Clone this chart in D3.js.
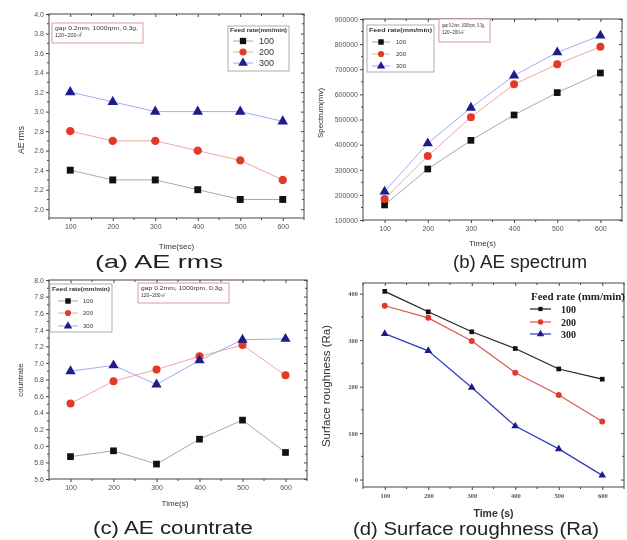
<!DOCTYPE html>
<html>
<head>
<meta charset="utf-8">
<script src="https://cdn.jsdelivr.net/npm/d3@7"></script>
<style>
  html, body { margin: 0; padding: 0; background: #fff; }
  svg { display: block; filter: blur(0.25px); }
</style>
</head>
<body>
<svg id="chart" width="627" height="540"></svg>
<script>
// ---------------- DATA ----------------
const times = [100, 200, 300, 400, 500, 600];
const feedRates = ["100", "200", "300"];

const rms100 = [2.4, 2.3, 2.3, 2.2, 2.1, 2.1];
const rms200 = [2.8, 2.7, 2.7, 2.6, 2.5, 2.3];
const rms300 = [3.2, 3.1, 3.0, 3.0, 3.0, 2.9];

const spec100 = [160000, 303000, 417000, 518000, 607000, 685000];
const spec200 = [184000, 355000, 509000, 640000, 720000, 790000];
const spec300 = [213000, 405000, 547000, 675000, 767000, 834000];

const cr100 = [5.87, 5.94, 5.78, 6.08, 6.31, 5.92];
const cr200 = [6.51, 6.78, 6.92, 7.08, 7.215, 6.85];
const cr300 = [6.90, 6.97, 6.74, 7.03, 7.28, 7.29];

const ra100 = [405, 361, 318, 282, 238, 216];
const ra200 = [374, 348, 298, 230, 182, 125];
const ra300 = [314, 277, 198, 115, 66, 9];

const timeTicks = [100, 200, 300, 400, 500, 600];
const rmsTicks = [2.0, 2.2, 2.4, 2.6, 2.8, 3.0, 3.2, 3.4, 3.6, 3.8, 4.0];
const specTicks = [100000, 200000, 300000, 400000, 500000, 600000, 700000, 800000, 900000];
const crTicks = [5.6, 5.8, 6.0, 6.2, 6.4, 6.6, 6.8, 7.0, 7.2, 7.4, 7.6, 7.8, 8.0];
const raTicks = [0, 100, 200, 300, 400];

const titles = ["(a) AE rms", "(b) AE spectrum", "(c) AE countrate", "(d) Surface roughness (Ra)"];
const legendTitleOrigin = "Feed rate(mm/min)";
const legendTitleD = "Feed rate (mm/min)";
const noteLines = ["gap 0.2mm, 1000rpm, 0.3g,", "120~200\u338B"];

// ---------------- DRAWING ----------------
const svg = d3.select("#chart");
const SANS = "'Liberation Sans', Arial, sans-serif";
const SERIF = "'Liberation Serif', 'Times New Roman', serif";

const markerColors = ["#111111", "#e23a2a", "#1c1c8a"];
const softLine = ["#a8a8a8", "#f2a6a0", "#a6aaf0"];
const hardLine = ["#222222", "#e25555", "#2b3cc0"];
const symbols = [d3.symbolSquare, d3.symbolCircle, d3.symbolTriangle];

function panel(cfg) {
  const g = svg.append("g");
  const x = d3.scaleLinear().domain([50, 650]).range([cfg.left, cfg.right]);
  const y = d3.scaleLinear().domain(cfg.yDomain).range([cfg.bottom, cfg.top]);

  const tickFont = cfg.serifTicks ? SERIF : SANS;
  const tickWeight = cfg.serifTicks ? "bold" : "normal";

  const xMinor = d3.range(50, 651, 50).filter(v => timeTicks.indexOf(v) < 0);
  const yMinor = cfg.yMinor;

  const bx = g.append("g").attr("transform", `translate(0,${cfg.bottom})`)
    .call(d3.axisBottom(x).tickValues(timeTicks).tickSize(3).tickPadding(3).tickFormat(d3.format("d")));
  bx.append("g").selectAll("line").data(xMinor).join("line")
    .attr("x1", d => x(d)).attr("x2", d => x(d)).attr("y1", 0).attr("y2", 2).attr("stroke", "#444");
  const ly = g.append("g").attr("transform", `translate(${cfg.left},0)`)
    .call(d3.axisLeft(y).tickValues(cfg.yTicks).tickSize(3).tickPadding(2).tickFormat(cfg.yFormat));
  ly.append("g").selectAll("line").data(yMinor).join("line")
    .attr("y1", d => y(d)).attr("y2", d => y(d)).attr("x1", 0).attr("x2", -2).attr("stroke", "#444");
  const tx = g.append("g").attr("transform", `translate(0,${cfg.top})`)
    .call(d3.axisBottom(x).tickValues(timeTicks).tickSize(3).tickFormat(""));
  tx.append("g").selectAll("line").data(xMinor).join("line")
    .attr("x1", d => x(d)).attr("x2", d => x(d)).attr("y1", 0).attr("y2", 2).attr("stroke", "#444");
  const ry = g.append("g").attr("transform", `translate(${cfg.right},0)`)
    .call(d3.axisLeft(y).tickValues(cfg.yTicks).tickSize(3).tickFormat(""));
  ry.append("g").selectAll("line").data(yMinor).join("line")
    .attr("y1", d => y(d)).attr("y2", d => y(d)).attr("x1", 0).attr("x2", -2).attr("stroke", "#444");

  [bx, ly, tx, ry].forEach(a => {
    a.select(".domain").remove();
    a.selectAll(".tick line").attr("stroke", "#444");
    a.selectAll(".tick text").attr("font-family", tickFont).attr("font-size", cfg.tickSize)
      .attr("font-weight", tickWeight).attr("fill", "#555");
  });

  g.append("rect").attr("x", cfg.left).attr("y", cfg.top)
    .attr("width", cfg.right - cfg.left).attr("height", cfg.bottom - cfg.top)
    .attr("fill", "none").attr("stroke", "#555").attr("stroke-width", 1.1);

  const line = d3.line().x((d, i) => x(times[i])).y(d => y(d));
  cfg.series.forEach((s, k) => {
    g.append("path").datum(s).attr("d", line).attr("fill", "none")
      .attr("stroke", cfg.hard ? hardLine[k] : softLine[k]).attr("stroke-width", cfg.hard ? 1.2 : 1);
  });
  cfg.series.forEach((s, k) => {
    g.append("g").selectAll("path").data(s).join("path")
      .attr("transform", (d, i) => `translate(${x(times[i])},${y(d)})`)
      .attr("d", d3.symbol().type(symbols[k]).size(cfg.markSize[k]))
      .attr("fill", markerColors[k]);
  });

  g.append("text").attr("x", (cfg.left + cfg.right) / 2 + cfg.xLabelDx).attr("y", cfg.xLabelY)
    .attr("text-anchor", "middle").attr("font-family", SANS).attr("font-size", cfg.xLabelSize)
    .attr("font-weight", cfg.hard ? "bold" : "normal").attr("fill", "#333").text(cfg.xLabel);
  g.append("text").attr("transform", `translate(${cfg.yLabelX},${cfg.yLabelY}) rotate(-90)`)
    .attr("text-anchor", "middle").attr("font-family", SANS).attr("font-size", cfg.yLabelSize)
    .attr("fill", "#333").text(cfg.yLabel);

  g.append("text").attr("x", cfg.titleX).attr("y", cfg.titleY).attr("text-anchor", "middle")
    .attr("font-family", SANS).attr("font-size", 18).attr("fill", "#222")
    .attr("textLength", cfg.titleLen).attr("lengthAdjust", "spacingAndGlyphs")
    .text(cfg.title);

  return { g, x, y };
}

function originLegend(g, box, fs) {
  g.append("rect").attr("x", box.x).attr("y", box.y).attr("width", box.w).attr("height", box.h)
    .attr("fill", "#fff").attr("stroke", "#999").attr("stroke-width", 0.8);
  g.append("text").attr("x", box.x + 2).attr("y", box.ty).attr("font-family", SANS)
    .attr("font-size", box.tfs).attr("font-weight", "bold").attr("fill", "#333")
    .attr("textLength", box.w - 4).attr("lengthAdjust", "spacingAndGlyphs").text(legendTitleOrigin);
  feedRates.forEach((f, k) => {
    const yy = box.rows[k];
    g.append("line").attr("x1", box.lx1).attr("x2", box.lx2).attr("y1", yy).attr("y2", yy)
      .attr("stroke", softLine[k]).attr("stroke-width", 1);
    g.append("path").attr("transform", `translate(${(box.lx1 + box.lx2) / 2},${yy})`)
      .attr("d", d3.symbol().type(symbols[k]).size(box.ms)).attr("fill", markerColors[k]);
    g.append("text").attr("x", box.labX).attr("y", yy).attr("dy", "0.35em")
      .attr("font-family", SANS).attr("font-size", fs).attr("fill", "#333").text(f);
  });
}

function note(g, b) {
  g.append("rect").attr("x", b.x).attr("y", b.y).attr("width", b.w).attr("height", b.h)
    .attr("fill", "#fff").attr("stroke", "#d99090").attr("stroke-width", 0.9);
  noteLines.forEach((t, i) => {
    g.append("text").attr("x", b.x + 3).attr("y", b.y + b.l[i]).attr("font-family", SANS)
      .attr("font-size", b.fs).attr("fill", "#333")
      .attr("textLength", i === 0 ? b.w - 8 : null).attr("lengthAdjust", "spacingAndGlyphs").text(t);
  });
}

// (a)
const pa = panel({
  left: 49, right: 304, top: 14, bottom: 218,
  yDomain: [1.91, 4.0], yTicks: rmsTicks, yMinor: d3.range(2.1, 4.0, 0.2), yFormat: d3.format(".1f"),
  tickSize: 7, series: [rms100, rms200, rms300], markSize: [48, 55, 48],
  xLabel: "Time(sec)", xLabelY: 249, xLabelSize: 8, xLabelDx: 0,
  yLabel: "AE rms", yLabelX: 24, yLabelY: 140, yLabelSize: 8.5,
  title: titles[0], titleX: 159, titleY: 268, titleLen: 128
});
originLegend(pa.g, { x: 228, y: 26, w: 61, h: 45, ty: 32, tfs: 6, rows: [41, 52, 63], lx1: 233, lx2: 253, labX: 259, ms: 40 }, 9);
note(pa.g, { x: 52, y: 23, w: 91, h: 20, l: [7, 14], fs: 5.5 });

// (b)
const pb = panel({
  left: 363, right: 622, top: 19, bottom: 220,
  yDomain: [100000, 900000], yTicks: specTicks, yMinor: d3.range(150000, 900000, 100000), yFormat: d3.format("d"),
  tickSize: 7, series: [spec100, spec200, spec300], markSize: [45, 50, 45],
  xLabel: "Time(s)", xLabelY: 246, xLabelSize: 8, xLabelDx: -10,
  yLabel: "Spectrum(mv)", yLabelX: 323, yLabelY: 113, yLabelSize: 8,
  title: titles[1], titleX: 520, titleY: 268, titleLen: 134
});
originLegend(pb.g, { x: 367, y: 25, w: 67, h: 47, ty: 32, tfs: 5.5, rows: [42, 54, 66], lx1: 372, lx2: 390, labX: 396, ms: 30 }, 6);
note(pb.g, { x: 439, y: 19, w: 51, h: 23, l: [8, 15], fs: 4.5 });

// (c)
const pc = panel({
  left: 49, right: 307, top: 280, bottom: 479,
  yDomain: [5.6, 8.0], yTicks: crTicks, yMinor: d3.range(5.7, 8.0, 0.2), yFormat: d3.format(".1f"),
  tickSize: 7, series: [cr100, cr200, cr300], markSize: [45, 50, 45],
  xLabel: "Time(s)", xLabelY: 506, xLabelSize: 8, xLabelDx: -3,
  yLabel: "countrate", yLabelX: 23, yLabelY: 380, yLabelSize: 8,
  title: titles[2], titleX: 173, titleY: 534, titleLen: 160
});
originLegend(pc.g, { x: 50, y: 284, w: 62, h: 48, ty: 291, tfs: 5.5, rows: [301, 313, 326], lx1: 58, lx2: 78, labX: 83, ms: 30 }, 6);
note(pc.g, { x: 138, y: 283, w: 91, h: 20, l: [7, 14], fs: 5 });

// (d)
const pd = panel({
  left: 363, right: 624, top: 283, bottom: 487, hard: true, serifTicks: true,
  yDomain: [-16, 423], yTicks: raTicks, yMinor: d3.range(50, 423, 100), yFormat: d3.format("d"),
  tickSize: 6.5, series: [ra100, ra200, ra300], markSize: [22, 28, 26],
  xLabel: "Time (s)", xLabelY: 517, xLabelSize: 10.5, xLabelDx: 0,
  yLabel: "Surface roughness (Ra)", yLabelX: 330, yLabelY: 386, yLabelSize: 11.5,
  title: titles[3], titleX: 476, titleY: 535, titleLen: 246
});
pd.g.append("text").attr("x", 531).attr("y", 300).attr("font-family", SERIF).attr("font-size", 10)
  .attr("font-weight", "bold").attr("fill", "#222").attr("textLength", 94).attr("lengthAdjust", "spacingAndGlyphs")
  .text(legendTitleD);
feedRates.forEach((f, k) => {
  const yy = [309, 322, 334][k];
  pd.g.append("line").attr("x1", 530).attr("x2", 551).attr("y1", yy).attr("y2", yy)
    .attr("stroke", hardLine[k]).attr("stroke-width", 1.2);
  pd.g.append("path").attr("transform", `translate(540.5,${yy})`)
    .attr("d", d3.symbol().type(symbols[k]).size([18, 24, 24][k])).attr("fill", markerColors[k]);
  pd.g.append("text").attr("x", 561).attr("y", yy).attr("dy", "0.35em").attr("font-family", SERIF)
    .attr("font-size", 10).attr("font-weight", "bold").attr("fill", "#222").text(f);
});
</script>
</body>
</html>
